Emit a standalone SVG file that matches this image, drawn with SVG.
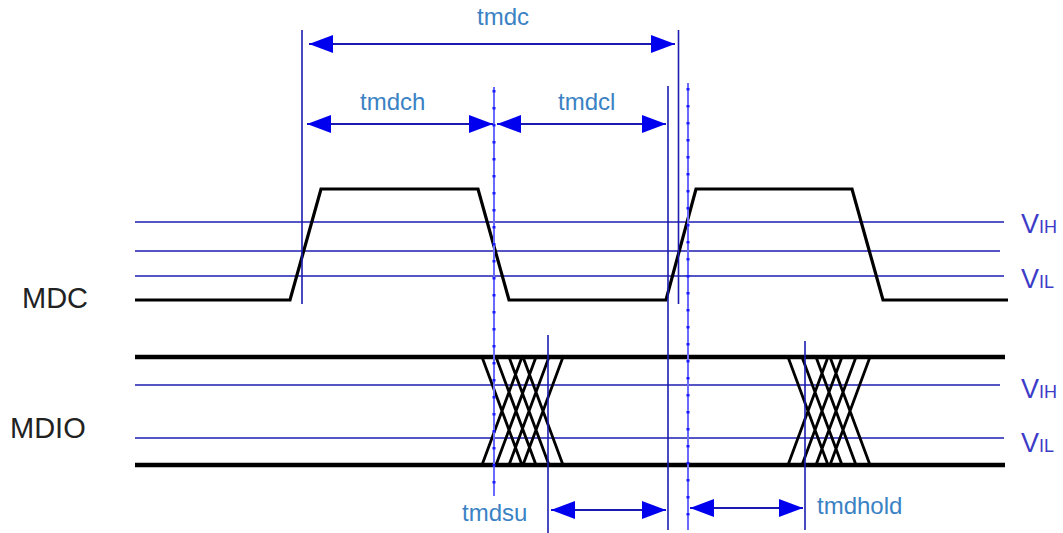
<svg xmlns="http://www.w3.org/2000/svg" width="1063" height="533" viewBox="0 0 1063 533">
<style>
.bg{fill:#ffffff}
.thr{stroke:#1c1cb0;stroke-width:1.6;fill:none}
.wave{stroke:#000;stroke-width:3.2;fill:none;stroke-linejoin:miter}
.bus{stroke:#000;stroke-width:4.6;fill:none}
.xl{stroke:#000;stroke-width:2.8;fill:none}
.vm{stroke:#1c1cb0;stroke-width:1.6;fill:none}
.vd{stroke:#6a6aff;stroke-width:2;fill:none}
.vdots{stroke:#1a1aff;stroke-width:3;stroke-dasharray:2.5 14.5;fill:none}
.arr{stroke:#1a1ab0;stroke-width:1.8;fill:none;marker-start:url(#ah);marker-end:url(#ah)}
.sig{font-family:"Liberation Sans",Arial,sans-serif;font-size:29px;fill:#222}
.tl{font-family:"Liberation Sans",Arial,sans-serif;font-size:24px;fill:#3a82c4}
.vl{font-family:"Liberation Sans",Arial,sans-serif;font-size:27px;fill:#3c3cc8}
.sub{font-size:18px}
</style>
<defs>
<marker id="ah" viewBox="0 0 24 18" markerWidth="24" markerHeight="18" refX="24" refY="9" orient="auto-start-reverse" markerUnits="userSpaceOnUse">
<path d="M0,0 L24,9 L0,18 Z" fill="#0000ee"/>
</marker>
</defs>
<rect class="bg" x="0" y="0" width="1063" height="533"/>

<g id="mdc-thresholds">
<line class="thr" x1="135" y1="222" x2="1004" y2="222"/>
<line class="thr" x1="135" y1="251" x2="1000" y2="251"/>
<line class="thr" x1="135" y1="276" x2="1004" y2="276"/>
</g>
<g id="mdio-thresholds">
<line class="thr" x1="135" y1="385" x2="1000" y2="385"/>
<line class="thr" x1="135" y1="438" x2="1004" y2="438"/>
</g>

<g id="mdc">
<text class="sig" x="22" y="308">MDC</text>
<polyline class="wave" points="135,300 290,300 321,189 478,189 509,300 666,300 696,189 852,189 883,300 1008,300"/>
</g>

<g id="mdio">
<text class="sig" x="10" y="438">MDIO</text>
<line class="bus" x1="135" y1="357" x2="1005" y2="357"/>
<line class="bus" x1="135" y1="465" x2="1005" y2="465"/>
<g id="mdio-cross-1">
<path class="xl" d="M482,357 L522,465 M496,357 L536,465 M509,357 L549,465 M523,357 L563,465 M482,465 L522,357 M496,465 L536,357 M509,465 L549,357 M523,465 L563,357"/>
</g>
<g id="mdio-cross-2">
<path class="xl" d="M788,357 L828,465 M802,357 L842,465 M816,357 L856,465 M830,357 L870,465 M788,465 L828,357 M802,465 L842,357 M816,465 L856,357 M830,465 L870,357"/>
</g>
</g>

<g id="markers">
<line class="vm" x1="302" y1="30" x2="302" y2="304"/>
<line class="vd" x1="494" y1="87" x2="494" y2="496"/>
<line class="vdots" x1="494" y1="90" x2="494" y2="496"/>
<line class="vm" x1="668" y1="86" x2="668" y2="530"/>
<line class="vm" x1="678.5" y1="30" x2="678.5" y2="304"/>
<line class="vd" x1="688" y1="83" x2="688" y2="530"/>
<line class="vdots" x1="688" y1="88" x2="688" y2="530"/>
<line class="vm" x1="548" y1="335" x2="548" y2="533"/>
<line class="vm" x1="805" y1="341" x2="805" y2="530"/>
</g>

<g id="connectors">
<line class="arr" x1="309" y1="44" x2="675" y2="44"/>
<line class="arr" x1="307" y1="124" x2="493" y2="124"/>
<line class="arr" x1="497" y1="124" x2="666" y2="124"/>
<line class="arr" x1="551" y1="510" x2="666" y2="510"/>
<line class="arr" x1="690" y1="508" x2="803" y2="508"/>
</g>

<g id="timing-labels">
<text class="tl" x="477" y="25">tmdc</text>
<text class="tl" x="360" y="110">tmdch</text>
<text class="tl" x="558" y="110">tmdcl</text>
<text class="tl" x="462" y="521">tmdsu</text>
<text class="tl" x="817" y="514">tmdhold</text>
</g>

<g id="level-labels">
<text class="vl" x="1021" y="233">V<tspan class="sub">IH</tspan></text>
<text class="vl" x="1021" y="288">V<tspan class="sub">IL</tspan></text>
<text class="vl" x="1021" y="398">V<tspan class="sub">IH</tspan></text>
<text class="vl" x="1021" y="452">V<tspan class="sub">IL</tspan></text>
</g>
</svg>
